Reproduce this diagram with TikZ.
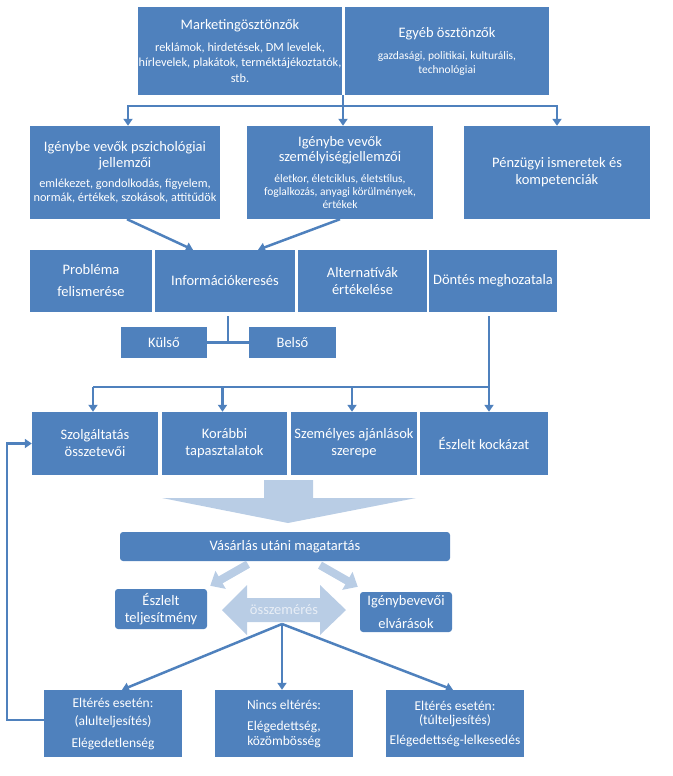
\documentclass[tikz,border=0pt]{standalone}
\usepackage{fontspec}
\setmainfont{Carlito}
\usetikzlibrary{arrows.meta}
\definecolor{boxblue}{HTML}{4F81BD}
\definecolor{lightblue}{HTML}{B9CDE5}
\definecolor{paletext}{HTML}{E8EEF6}
\newcommand\bigt{\fontsize{14.5}{17}\selectfont}
\newcommand\smallt{\fontsize{11.5}{14}\selectfont}
\newcommand\midt{\fontsize{12.3}{14.5}\selectfont}
\newcommand\lowt{\fontsize{13.5}{15}\selectfont}
\tikzset{
  box/.style={fill=boxblue, text=white, inner sep=0pt, align=center, font=\bigt},
  subbox/.style={box, font=\smallt},
  midbox/.style={box, font=\midt},
  lowbox/.style={box, font=\lowt},
  conn/.style={draw=boxblue, line width=2.5pt},
  arr/.style={conn, -{Triangle[length=7pt,width=9pt]}},
  lightarr/.style={draw=lightblue, line width=8pt, -{Triangle[length=12pt,width=20pt]}}
}

\begin{document}
\begin{tikzpicture}[x=1pt,y=-1pt]
		%%%%% START %%%%%
		\useasboundingbox (0,0) rectangle (672,776);
		
		% stimuli
		\node[midbox, minimum width=204pt, minimum height=88pt] (mark) at (240,51)
			{{\bigt Marketingösztönzők}\\[7pt] reklámok, hirdetések, DM levelek,\\[0.5pt] hírlevelek, plakátok, terméktájékoztatók,\\[1.5pt] stb.};
		\node[subbox, minimum width=204pt, minimum height=88pt] (egyeb) at (447,51)
			{{\bigt Egyéb ösztönzők}\\[8pt] gazdasági, politikai, kulturális,\\ technológiai};
		
		% characteristics
		\node[midbox, minimum width=190pt, minimum height=93pt] (pszich) at (125,172.5)
			{{\bigt Igénybe vevők pszichológiai}\\[1.5pt] {\bigt jellemzői}\\[5.5pt] emlékezet, gondolkodás, figyelem,\\ normák, értékek, szokások, attitűdök};
		\node[subbox, minimum width=186pt, minimum height=93pt] (szemely) at (340,172.5)
			{{\bigt Igénybe vevők}\\[1pt] {\bigt személyiségjellemzői}\\[7pt] életkor, életciklus, életstílus,\\[-1pt] foglalkozás, anyagi körülmények,\\[-1pt] értékek};
		\node[box, minimum width=186pt, minimum height=93pt] (penz) at (557,172.5)
			{Pénzügyi ismeretek és\\ kompetenciák};
		
		% decision process
		\node[box, minimum width=122pt, minimum height=62pt] (probl) at (91,281) {Probléma\\[5pt] felismerése};
		\node[box, minimum width=140pt, minimum height=62pt] (info) at (225,281) {Információkeresés};
		\node[box, minimum width=129pt, minimum height=62pt] (altern) at (362.5,281) {Alternatívák\\ értékelése};
		\node[box, minimum width=128pt, minimum height=62pt] (dontes) at (493,281) {Döntés meghozatala};
		\node[box, minimum width=86pt, minimum height=31pt] (kulso) at (164,342.5) {Külső};
		\node[box, minimum width=87pt, minimum height=31pt] (belso) at (292.5,342.5) {Belső};
		
		% factors
		\node[box, minimum width=126pt, minimum height=63pt] (szolg) at (95,443.5) {Szolgáltatás\\ összetevői};
		\node[box, minimum width=125pt, minimum height=63pt] (korabbi) at (224.5,443.5) {Korábbi\\ tapasztalatok};
		\node[box, minimum width=126pt, minimum height=63pt] (szem) at (354,443.5) {Személyes ajánlások\\ szerepe};
		\node[box, minimum width=128pt, minimum height=63pt] (eszl) at (484,443.5) {Észlelt kockázat};
		
		% after purchase
		\fill[lightblue] (264,480) -- (313,480) -- (313,498) -- (416,498) -- (288,523) -- (162,498) -- (264,498) -- cycle;
		\node[box, rounded corners=3pt, minimum width=330pt, minimum height=29pt] (vasar) at (285,546.5) {Vásárlás utáni magatartás};
		\node[box, rounded corners=3pt, minimum width=92pt, minimum height=40pt] (eszlt) at (161,609) {Észlelt\\ teljesítmény};
		\node[box, rounded corners=3pt, minimum width=92pt, minimum height=40pt] (igeny) at (406,612) {Igénybevevői\\[6pt] elvárások};
		\fill[lightblue] (222,610) -- (247,585) -- (247,598) -- (320,598) -- (320,585) -- (346,610)
			-- (320,635) -- (320,622) -- (247,622) -- (247,635) -- cycle;
		\node[font=\bigt, text=paletext] (osz) at (284,610) {összemérés};
		\draw[lightarr] ([shift={(-37,3)}]vasar.south) -- ([shift={(3,-3)}]eszlt.north east);
		\draw[lightarr] ([shift={(35,4)}]vasar.south) -- ([shift={(-2,-5)}]igeny.north west);
		
		% outcomes
		\node[lowbox, minimum width=138pt, minimum height=67pt] (alul) at (113,723.5)
			{Eltérés esetén:\\[3pt] (alulteljesítés)\\[7pt] Elégedetlenség};
		\node[lowbox, minimum width=138pt, minimum height=67pt] (nincs) at (284,723.5)
			{Nincs eltérés:\\[6pt] Elégedettség,\\ közömbösség};
		\node[lowbox, minimum width=138pt, minimum height=67pt] (tul) at (455,723.5)
			{Eltérés esetén:\\[-1pt] (túlteljesítés)\\[5pt] Elégedettség-lelkesedés};
		
		% connectors
		\coordinate (split) at (343,95);
		\coordinate (bus1) at (343,106);
		\draw[conn] (split) -- (bus1);
		\draw[arr] (bus1) -| ([xshift=3pt]pszich.north);
		\draw[arr] (bus1) -| (penz.north);
		\draw[arr] (bus1) -- (bus1 |- szemely.north);
		\draw[arr] ([xshift=2pt]pszich.south) -- ([xshift=-32pt]info.north);
		\draw[arr] (szemely.south) -- ([xshift=33pt]info.north);
		
		\draw[conn] (kulso.east) -- (belso.west);
		\draw[conn] ([shift={(3,4)}]info.south) -- ([xshift=3pt]info.south |- kulso.east);
		
		\coordinate (bus2) at (489,387);
		\draw[conn] ([shift={(-4,4)}]dontes.south) -- (bus2);
		\draw[conn] ([xshift=-2pt]szolg.north |- bus2) -- (bus2);
		\foreach \n in {szolg,korabbi,szem}
			\draw[arr] ([xshift=-2pt]\n.north |- bus2) -- ([xshift=-2pt]\n.north);
		\draw[arr] (bus2) -- (bus2 |- eszl.north);
		
		\coordinate (fb) at (7,720);
		\draw[arr] ([yshift=3.5pt]alul.west) -- (fb) |- (szolg.west);
		
		\coordinate (oszb) at (282,624);
		\draw[arr] (oszb) -- ([xshift=9pt]alul.north);
		\draw[arr] (oszb) -- (oszb |- nincs.north);
		\draw[arr] (oszb) -- ([xshift=-2pt]tul.north);
		%%%%% END %%%%%
\end{tikzpicture}
\end{document}
